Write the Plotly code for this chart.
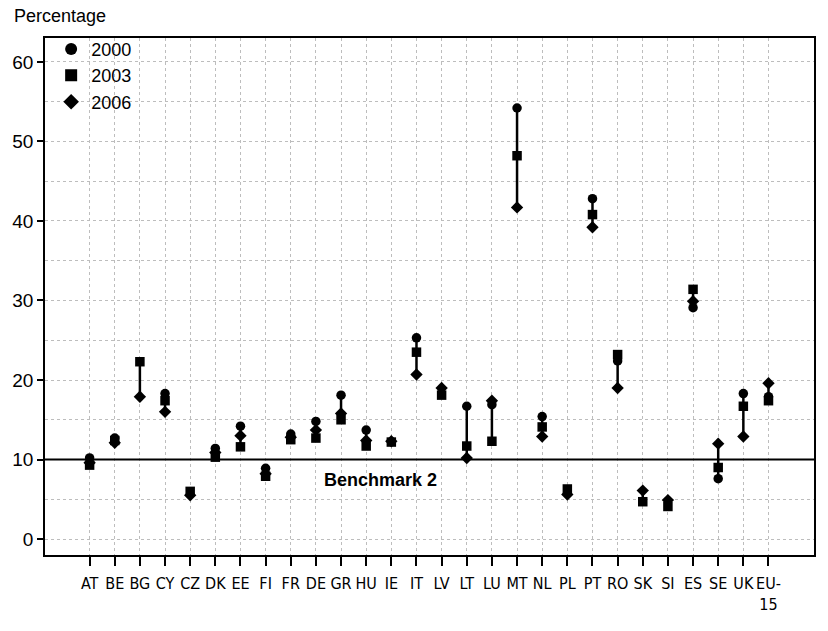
import plotly.graph_objects as go

countries = ["AT", "BE", "BG", "CY", "CZ", "DK", "EE", "FI", "FR", "DE", "GR", "HU", "IE", "IT",
             "LV", "LT", "LU", "MT", "NL", "PL", "PT", "RO", "SK", "SI", "ES", "SE", "UK", "EU-15"]
tick_labels = ["AT", "BE", "BG", "CY", "CZ", "DK", "EE", "FI", "FR", "DE", "GR", "HU", "IE", "IT",
               "LV", "LT", "LU", "MT", "NL", "PL", "PT", "RO", "SK", "SI", "ES", "SE", "UK", "EU-<br>15"]

v2000 = [10.2, 12.7, None, 18.3, None, 11.4, 14.2, 8.9, 13.2, 14.8, 18.1, 13.7, None, 25.3,
         None, 16.7, 16.9, 54.2, 15.4, None, 42.8, 22.4, None, None, 29.1, 7.6, 18.3, 17.9]
v2003 = [9.3, 12.4, 22.3, 17.4, 6.0, 10.3, 11.6, 7.9, 12.5, 12.7, 15.0, 11.7, 12.2, 23.5,
         18.1, 11.7, 12.3, 48.2, 14.1, 6.3, 40.8, 23.2, 4.7, 4.1, 31.4, 9.0, 16.7, 17.4]
v2006 = [9.6, 12.1, 17.9, 16.0, 5.5, 10.9, 13.0, 8.2, 12.8, 13.7, 15.8, 12.4, 12.3, 20.7,
         19.0, 10.2, 17.4, 41.7, 12.9, 5.6, 39.2, 19.0, 6.1, 4.9, 29.9, 12.0, 12.9, 19.6]

years = ["2000", "2003", "2006"]
symbols = ["circle", "square", "diamond"]
benchmark_value = 10
benchmark_label = "Benchmark 2"

fig = go.Figure()

# range lines per country (min to max of available values)
lx, ly = [], []
for i, c in enumerate(countries):
    vals = [v for v in (v2000[i], v2003[i], v2006[i]) if v is not None]
    lx += [i, i, None]
    ly += [min(vals), max(vals), None]
fig.add_trace(go.Scatter(x=lx, y=ly, mode="lines", line=dict(color="black", width=2.5),
                         showlegend=False, hoverinfo="skip"))

for yr, sym, vals in zip(years, symbols, [v2000, v2003, v2006]):
    fig.add_trace(go.Scatter(x=list(range(len(countries))), y=vals, mode="markers", name=yr,
                             marker=dict(symbol=sym, size=9.5, color="black")))

fig.add_shape(type="line", xref="paper", x0=0, x1=1, yref="y", y0=benchmark_value, y1=benchmark_value,
              line=dict(color="black", width=2))
fig.add_annotation(x=11.55, y=7.4, text="<b>" + benchmark_label + "</b>", showarrow=False,
                   font=dict(family="Liberation Sans, Arial, sans-serif", size=18, color="black"))
fig.add_annotation(xref="paper", yref="paper", x=-33 / 776, y=1 + 22 / 517, xanchor="left",
                   yanchor="middle", text="Percentage", showarrow=False,
                   font=dict(family="Liberation Sans, Arial, sans-serif", size=18, color="black"))

fig.update_layout(
    width=828, height=631,
    margin=dict(l=40, r=12, t=38, b=76),
    paper_bgcolor="white", plot_bgcolor="white",
    font=dict(family="Liberation Sans, Arial, sans-serif", color="black"),
    legend=dict(x=0.008, y=1.014, xanchor="left", yanchor="top", bgcolor="rgba(0,0,0,0)",
                font=dict(size=18, color="black"), itemsizing="constant", itemwidth=30),
    showlegend=True,
)
fig.update_xaxes(
    range=[-1.774, 28.81], tickmode="array", tickvals=list(range(len(countries))), ticktext=tick_labels,
    showline=True, linecolor="black", linewidth=1.8, mirror=True,
    ticks="outside", ticklen=9, tickcolor="black", tickwidth=1.5, tickangle=0,
    showgrid=True, gridcolor="#bdbdbd", griddash="dot", gridwidth=1,
    tickfont=dict(family="Liberation Sans Narrow, DejaVu Sans Condensed, sans-serif", size=16),
    ticklabelstandoff=4,
    zeroline=False,
)
fig.update_yaxes(
    range=[-2.0, 63.0], tickmode="linear", tick0=0, dtick=10,
    showline=True, linecolor="black", linewidth=1.8, mirror=True,
    ticks="outside", ticklen=6, tickcolor="black", tickwidth=1.5,
    showgrid=True, gridcolor="#bdbdbd", griddash="dot", gridwidth=1,
    minor=dict(dtick=5, showgrid=True, gridcolor="#bdbdbd", griddash="dot", gridwidth=1),
    tickfont=dict(size=19), zeroline=False,
)

fig.write_html("out.html")
